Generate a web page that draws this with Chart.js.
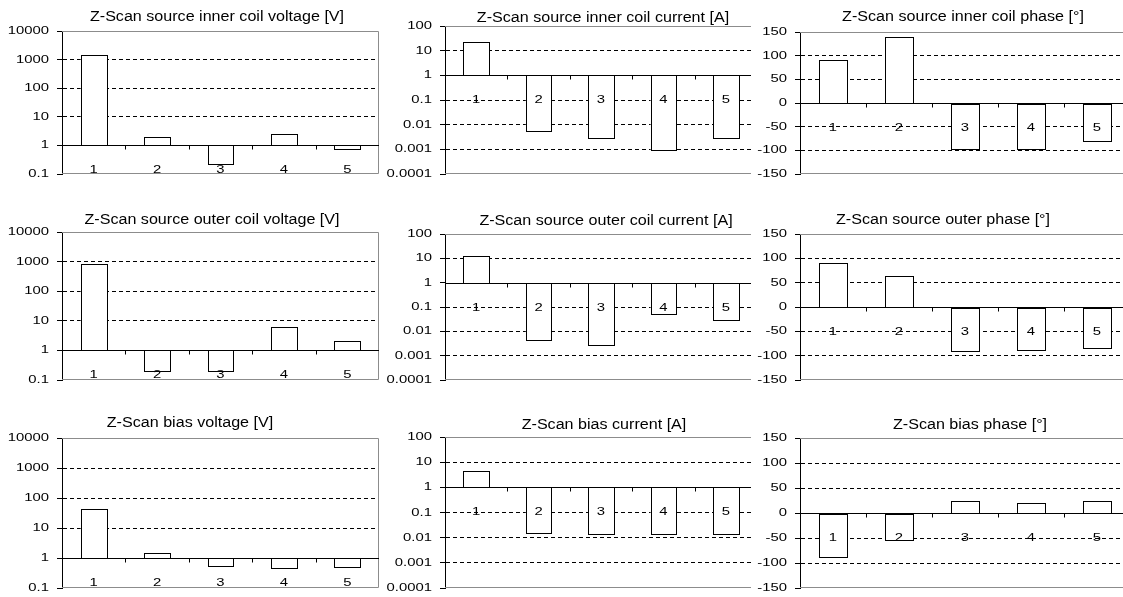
<!DOCTYPE html>
<html>
<head>
<meta charset="utf-8">
<script src="https://cdn.jsdelivr.net/npm/chart.js@4.4.1/dist/chart.umd.min.js"></script>
<style>
  html, body { margin: 0; padding: 0; background: #fff; }
  #page { position: relative; width: 1123px; height: 597px; overflow: hidden; background: #fff; }
  .clip { position: absolute; overflow: hidden; background: #fff; }
  .clip canvas { position: absolute; left: 0; top: 0; }
</style>
</head>
<body>
<div id="page"></div>
<script>
// Measurement points
const categories = ['1', '2', '3', '4', '5'];

// Axis tick labels
const voltageTicks = ['0.1', '1', '10', '100', '1000', '10000'];
const currentTicks = ['0.0001', '0.001', '0.01', '0.1', '1', '10', '100'];
const phaseTicks = ['-150', '-100', '-50', '0', '50', '100', '150'];

// Source inner coil
const innerVoltage = [1450, 1.9, 0.23, 2.5, 0.72];
const innerCurrent = [23, 0.0056, 0.0028, 0.0009, 0.0028];
const innerPhase = [90, 139, -98, -98, -80];

// Source outer coil
const outerVoltage = [850, 0.2, 0.2, 6, 2];
const outerCurrent = [12, 0.0045, 0.0028, 0.05, 0.03];
const outerPhase = [90, 63, -90, -88, -85];

// Bias
const biasVoltage = [42, 1.5, 0.56, 0.47, 0.5];
const biasCurrent = [4.5, 0.015, 0.014, 0.014, 0.014];
const biasPhase = [-87, -53, 25, 20, 25];

const TEXT_FONT = '"Liberation Sans", Arial, sans-serif';

// Panel grid: clip box, plot box and title anchor in page pixels
const panels = [
  { title: 'Z-Scan source inner coil voltage [V]', values: innerVoltage, ticks: voltageTicks, log: true,
    clip: [0, 0, 381, 195], plot: [62, 31, 379, 174], titleAt: [217, 17] },
  { title: 'Z-Scan source inner coil current [A]', values: innerCurrent, ticks: currentTicks, log: true,
    clip: [381, 0, 751, 195], plot: [445, 26, 757, 174], titleAt: [603, 18] },
  { title: 'Z-Scan source inner coil phase [°]', values: innerPhase, ticks: phaseTicks, log: false,
    clip: [751, 0, 1123, 195], plot: [800, 32, 1130, 174], titleAt: [963, 17] },

  { title: 'Z-Scan source outer coil voltage [V]', values: outerVoltage, ticks: voltageTicks, log: true,
    clip: [0, 195, 381, 395], plot: [62, 232, 379, 380], titleAt: [212, 220] },
  { title: 'Z-Scan source outer coil current [A]', values: outerCurrent, ticks: currentTicks, log: true,
    clip: [381, 195, 751, 395], plot: [445, 234, 757, 380], titleAt: [606, 221] },
  { title: 'Z-Scan source outer phase [°]', values: outerPhase, ticks: phaseTicks, log: false,
    clip: [751, 195, 1123, 395], plot: [800, 234, 1130, 380], titleAt: [943, 220] },

  { title: 'Z-Scan bias voltage [V]', values: biasVoltage, ticks: voltageTicks, log: true,
    clip: [0, 395, 381, 597], plot: [62, 438, 379, 588], titleAt: [190, 423] },
  { title: 'Z-Scan bias current [A]', values: biasCurrent, ticks: currentTicks, log: true,
    clip: [381, 395, 751, 597], plot: [445, 437, 757, 588], titleAt: [604, 425] },
  { title: 'Z-Scan bias phase [°]', values: biasPhase, ticks: phaseTicks, log: false,
    clip: [751, 395, 1123, 597], plot: [800, 438, 1130, 588], titleAt: [970, 425] }
];

// Text drawn slightly widened, like the old spreadsheet rendering
function wideText(ctx, text, x, y, align, size, sx) {
  ctx.save();
  ctx.font = size + 'px ' + TEXT_FONT;
  ctx.fillStyle = '#000';
  ctx.textAlign = align;
  ctx.textBaseline = 'middle';
  ctx.translate(x, y);
  ctx.scale(sx, 1);
  ctx.fillText(text, 0, 0);
  ctx.restore();
}

const px = v => Math.round(v) + 0.5;

// Frame, crossing axis, crisp bar outlines, labels and title
const panelDecor = {
  id: 'panelDecor',
  afterDatasetsDraw(chart) {
    // sharp 1px outlines around every bar, taken from the bar elements
    const { ctx } = chart;
    const meta = chart.getDatasetMeta(0);
    ctx.save();
    ctx.lineWidth = 1;
    ctx.strokeStyle = '#000';
    ctx.fillStyle = '#fff';
    meta.data.forEach(el => {
      const { x, y, base, width } = el.getProps(['x', 'y', 'base', 'width'], true);
      const l = px(x - width / 2), r = px(x + width / 2);
      const t = px(Math.min(y, base)), b = px(Math.max(y, base));
      ctx.fillRect(l, t, r - l, b - t);
      ctx.strokeRect(l, t, r - l, b - t);
    });
    ctx.restore();
  },
  afterDraw(chart, args, opts) {
    const { ctx, chartArea: a, scales: { x, y } } = chart;
    const p = opts.panel;
    const base = p.log ? 1 : 0;

    ctx.save();
    ctx.lineWidth = 1;

    // grey frame on top, right and bottom of the plot area
    const t = Math.round(a.top) + 0.5;
    const b = Math.round(a.bottom) - 0.5;
    const r = Math.round(a.right) - 0.5;
    ctx.strokeStyle = '#8c8c8c';
    ctx.beginPath();
    ctx.moveTo(a.left, t);
    ctx.lineTo(r, t);
    ctx.lineTo(r, b);
    ctx.lineTo(a.left, b);
    ctx.stroke();

    // category axis crossing at the base value
    const by = px(y.getPixelForValue(base));
    ctx.strokeStyle = '#000';
    ctx.beginPath();
    ctx.moveTo(a.left, by);
    ctx.lineTo(a.right, by);
    ctx.stroke();

    // tick marks between categories
    ctx.beginPath();
    for (let i = 1; i < categories.length; i++) {
      const tx = px((x.getPixelForValue(i - 1) + x.getPixelForValue(i)) / 2);
      ctx.moveTo(tx, by);
      ctx.lineTo(tx, by + 4);
    }
    ctx.stroke();
    ctx.restore();

    // category labels below the crossing axis
    categories.forEach((c, i) => {
      wideText(ctx, c, x.getPixelForValue(i), by + 24, 'center', 11, 1.35);
    });

    // value axis labels
    y.ticks.forEach((tk, i) => {
      wideText(ctx, p.ticks[i], a.left - 13, y.getPixelForValue(tk.value), 'right', 11, 1.35);
    });

    // chart title
    wideText(ctx, p.title, p.titleAt[0] - p.clip[0], p.titleAt[1] - p.clip[1], 'center', 14, 1.15);
  }
};

const page = document.getElementById('page');

panels.forEach(p => {
  const [cl, ct, cr, cb] = p.clip;
  const [pl, pt, pr, pb] = p.plot;

  const box = document.createElement('div');
  box.className = 'clip';
  box.style.left = cl + 'px';
  box.style.top = ct + 'px';
  box.style.width = (cr - cl) + 'px';
  box.style.height = (cb - ct) + 'px';
  page.appendChild(box);

  const canvas = document.createElement('canvas');
  const w = pr - cl + 2;
  const h = cb - ct;
  canvas.width = w;
  canvas.height = h;
  canvas.style.width = w + 'px';
  canvas.style.height = h + 'px';
  box.appendChild(canvas);

  const tickValues = p.ticks.map(Number);
  const minV = tickValues[0];
  const maxV = tickValues[tickValues.length - 1];
  const base = p.log ? 1 : 0;
  const axisWidth = pl - cl;

  new Chart(canvas, {
    type: 'bar',
    data: {
      labels: categories,
      datasets: [{
        data: p.log ? p.values.map(v => [1, v]) : p.values,
        backgroundColor: '#ffffff',
        borderWidth: 0,
        barPercentage: 0.41,
        categoryPercentage: 1.0
      }]
    },
    options: {
      responsive: false,
      animation: false,
      events: [],
      layout: {
        padding: { left: 0, right: 2, top: pt - ct, bottom: cb - pb }
      },
      plugins: {
        legend: { display: false },
        tooltip: { enabled: false },
        title: { display: false },
        panelDecor: { panel: p }
      },
      scales: {
        x: {
          type: 'category',
          display: false
        },
        y: {
          type: p.log ? 'logarithmic' : 'linear',
          min: minV,
          max: maxV,
          afterBuildTicks: scale => { scale.ticks = tickValues.map(v => ({ value: v })); },
          afterFit: scale => { scale.width = axisWidth; },
          ticks: { display: false },
          grid: {
            drawTicks: true,
            tickLength: 5,
            tickColor: '#000',
            lineWidth: 1,
            color: c => {
              const v = c.tick ? c.tick.value : null;
              return (v === minV || v === maxV || v === base) ? 'rgba(0,0,0,0)' : '#000';
            }
          },
          border: { display: true, color: '#000', width: 1, dash: [4, 3] }
        }
      }
    },
    plugins: [panelDecor]
  });
});
</script>
</body>
</html>
